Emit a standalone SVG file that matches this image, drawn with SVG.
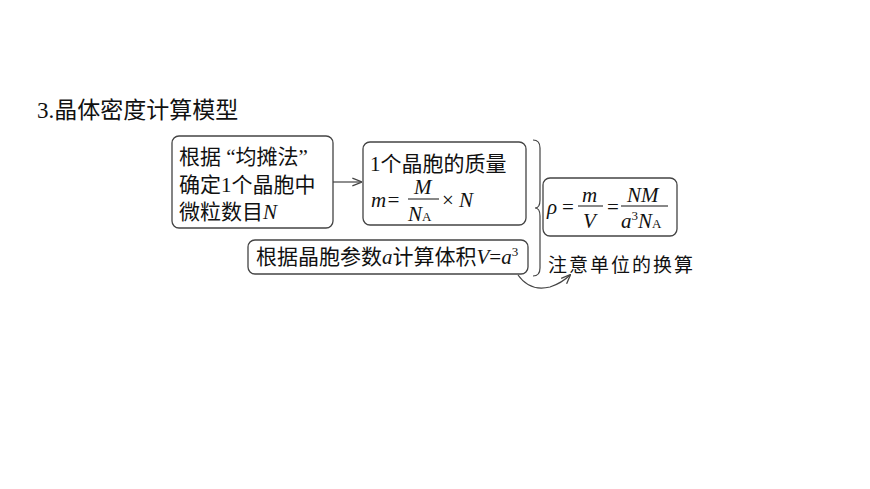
<svg xmlns="http://www.w3.org/2000/svg" width="870" height="489" viewBox="0 0 870 489">
<style>
.b{fill:#fff;stroke:#444;stroke-width:1.3}
.t{font-family:"Liberation Serif","Noto Sans CJK SC",serif;font-size:21px;fill:#111}
.i{font-style:italic}
.s{font-size:13px}
.l{fill:none;stroke:#444;stroke-width:1.2}
</style>
<defs><marker id="a" viewBox="0 0 10 10" refX="9" refY="5" markerWidth="8" markerHeight="8" orient="auto"><path d="M0,1 L10,5 L0,9" fill="none" stroke="#444" stroke-width="1.3"/></marker></defs>
<rect width="870" height="489" fill="#fff"/>
<text x="37" y="118" class="t" style="font-size:23px">3.晶体密度计算模型</text>
<g id="n1"><rect class="b" x="172" y="136" width="161" height="92" rx="7"/>
<text class="t" x="179" y="164">根据 “均摊法”</text>
<text class="t" x="179" y="192">确定1个晶胞中</text>
<text class="t" x="179" y="219">微粒数目<tspan class="i">N</tspan></text></g>
<g id="n2"><rect class="b" x="363" y="142" width="163" height="83" rx="7"/>
<text class="t" x="370" y="171">1个晶胞的质量</text>
<text class="t i" x="371" y="207">m=</text>
<text class="t i" x="414" y="194">M</text>
<line x1="408" y1="199" x2="439" y2="199" stroke="#111" stroke-width="1"/>
<text class="t i" x="408" y="221">N<tspan class="s" font-style="normal">A</tspan></text>
<text class="t" x="442" y="207">× <tspan class="i">N</tspan></text></g>
<g id="n3"><rect class="b" x="248" y="240" width="280" height="34" rx="7"/>
<text class="t" x="256" y="264">根据晶胞参数<tspan class="i">a</tspan>计算体积<tspan class="i">V</tspan>=<tspan class="i">a</tspan><tspan class="s" dy="-8">3</tspan></text></g>
<g id="n4"><rect class="b" x="543" y="178" width="134" height="58" rx="7"/>
<text class="t i" x="547" y="214">ρ</text>
<text class="t" x="562" y="214">=</text>
<text class="t i" x="582" y="202">m</text>
<line x1="578" y1="206" x2="603" y2="206" stroke="#111" stroke-width="1"/>
<text class="t i" x="583" y="228">V</text>
<text class="t" x="607" y="214">=</text>
<text class="t i" x="627" y="202">NM</text>
<line x1="621" y1="206" x2="668" y2="206" stroke="#111" stroke-width="1"/>
<text class="t i" x="621" y="228">a<tspan class="s" font-style="normal" dy="-8">3</tspan><tspan dy="8">N</tspan><tspan class="s" font-style="normal">A</tspan></text></g>
<text class="t" x="548" y="272" style="font-family:'Noto Sans CJK SC',sans-serif;font-size:19px;letter-spacing:2px">注意单位的换算</text>
<g id="connectors">
<line class="l" x1="333" y1="182" x2="361" y2="182" marker-end="url(#a)"/>
<path class="l" d="M533,140 Q540,140 540,148 L540,200 Q540,208 535,208 Q540,208 540,216 L540,268 Q540,276 533,276"/>
<path class="l" d="M518,275 Q530,292 550,287 Q562,283 570,275" marker-end="url(#a)"/>
</g>
</svg>
